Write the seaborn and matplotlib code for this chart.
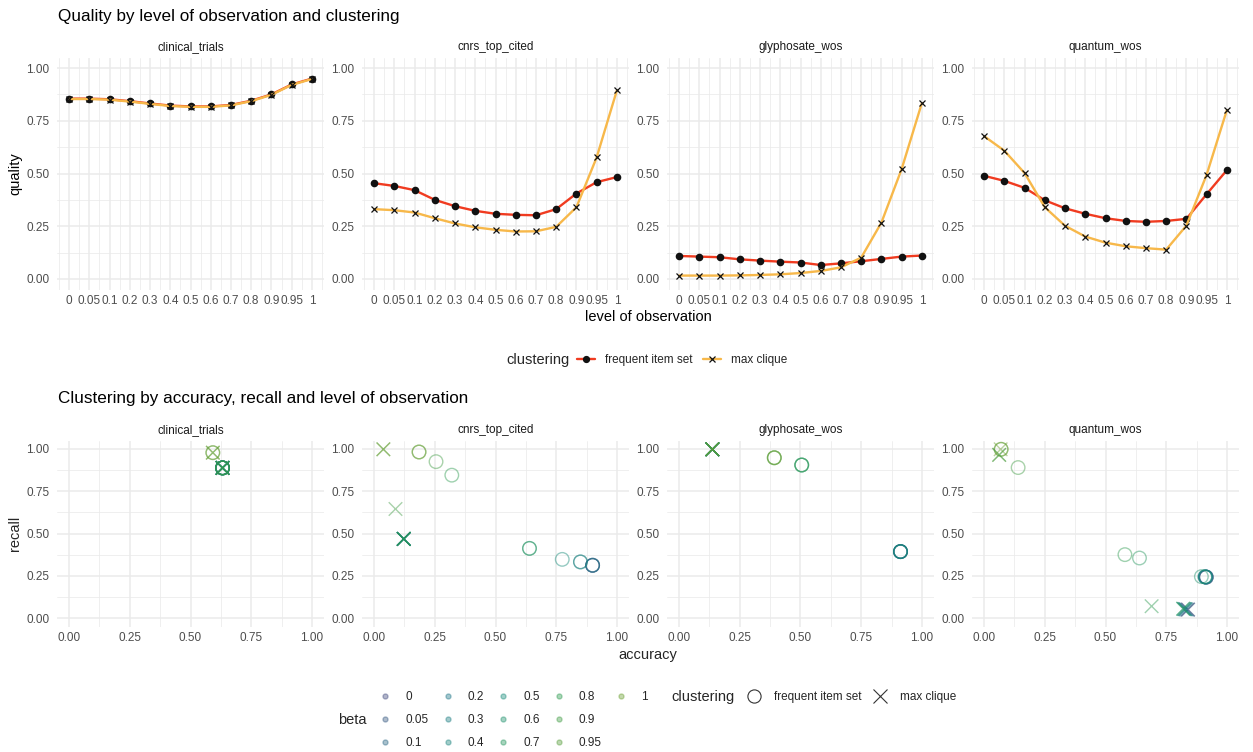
import numpy as np
import pandas as pd
import matplotlib
matplotlib.use("Agg")
import matplotlib.pyplot as plt
import seaborn as sns
from matplotlib.lines import Line2D
from matplotlib.colors import LinearSegmentedColormap, to_hex

# ---------------- data ----------------
datasets = ["clinical_trials", "cnrs_top_cited", "glyphosate_wos", "quantum_wos"]
levels = ["0", "0.05", "0.1", "0.2", "0.3", "0.4", "0.5", "0.6", "0.7", "0.8", "0.9", "0.95", "1"]
clusterings = ["frequent item set", "max clique"]

# quality by level of observation (top row)
quality_fis_clinical = [0.855, 0.855, 0.852, 0.843, 0.832, 0.822, 0.818, 0.818, 0.825, 0.845, 0.875, 0.922, 0.950]
quality_mc_clinical = [0.853, 0.853, 0.850, 0.841, 0.830, 0.820, 0.816, 0.816, 0.823, 0.843, 0.873, 0.920, 0.948]
quality_fis_cnrs = [0.454, 0.441, 0.421, 0.375, 0.345, 0.323, 0.309, 0.304, 0.302, 0.331, 0.405, 0.459, 0.483]
quality_mc_cnrs = [0.331, 0.326, 0.315, 0.288, 0.263, 0.245, 0.233, 0.225, 0.226, 0.247, 0.340, 0.576, 0.894]
quality_fis_glyphosate = [0.109, 0.106, 0.103, 0.093, 0.087, 0.082, 0.078, 0.066, 0.074, 0.084, 0.095, 0.106, 0.111]
quality_mc_glyphosate = [0.016, 0.016, 0.016, 0.017, 0.019, 0.022, 0.028, 0.038, 0.055, 0.101, 0.267, 0.521, 0.834]
quality_fis_quantum = [0.489, 0.465, 0.432, 0.373, 0.335, 0.309, 0.288, 0.275, 0.271, 0.275, 0.285, 0.402, 0.516]
quality_mc_quantum = [0.677, 0.608, 0.502, 0.340, 0.252, 0.201, 0.172, 0.155, 0.146, 0.139, 0.253, 0.494, 0.801]

# accuracy / recall per beta (bottom row)
acc_fis_clinical = [0.632, 0.632, 0.632, 0.632, 0.632, 0.632, 0.632, 0.632, 0.632, 0.632, 0.632, 0.592, 0.592]
rec_fis_clinical = [0.888, 0.888, 0.888, 0.888, 0.888, 0.888, 0.888, 0.888, 0.888, 0.888, 0.888, 0.978, 0.978]
acc_mc_clinical = [0.632, 0.632, 0.632, 0.632, 0.632, 0.632, 0.632, 0.632, 0.632, 0.632, 0.632, 0.592, 0.592]
rec_mc_clinical = [0.888, 0.888, 0.888, 0.888, 0.888, 0.888, 0.888, 0.888, 0.888, 0.888, 0.888, 0.978, 0.978]

acc_fis_cnrs = [0.900, 0.900, 0.900, 0.900, 0.850, 0.850, 0.775, 0.640, 0.640, 0.320, 0.255, 0.185, 0.185]
rec_fis_cnrs = [0.312, 0.312, 0.312, 0.312, 0.332, 0.332, 0.347, 0.412, 0.412, 0.845, 0.925, 0.982, 0.982]
acc_mc_cnrs = [0.122, 0.122, 0.122, 0.122, 0.122, 0.122, 0.122, 0.122, 0.122, 0.122, 0.088, 0.038, 0.038]
rec_mc_cnrs = [0.468, 0.468, 0.468, 0.468, 0.468, 0.468, 0.468, 0.468, 0.468, 0.468, 0.645, 0.998, 0.998]

acc_fis_glyphosate = [0.912, 0.912, 0.912, 0.912, 0.912, 0.912, 0.912, 0.505, 0.505, 0.505, 0.392, 0.392, 0.392]
rec_fis_glyphosate = [0.393, 0.393, 0.393, 0.393, 0.393, 0.393, 0.393, 0.905, 0.905, 0.905, 0.948, 0.948, 0.948]
acc_mc_glyphosate = [0.137, 0.137, 0.137, 0.137, 0.137, 0.137, 0.137, 0.137, 0.137, 0.137, 0.137, 0.137, 0.137]
rec_mc_glyphosate = [0.998, 0.998, 0.998, 0.998, 0.998, 0.998, 0.998, 0.998, 0.998, 0.998, 0.998, 0.998, 0.998]

acc_fis_quantum = [0.915, 0.915, 0.915, 0.912, 0.912, 0.910, 0.910, 0.895, 0.640, 0.580, 0.140, 0.070, 0.070]
rec_fis_quantum = [0.242, 0.242, 0.242, 0.243, 0.243, 0.244, 0.244, 0.245, 0.355, 0.375, 0.890, 0.998, 0.998]
acc_mc_quantum = [0.840, 0.840, 0.835, 0.830, 0.830, 0.825, 0.825, 0.820, 0.820, 0.690, 0.062, 0.062, 0.068]
rec_mc_quantum = [0.050, 0.050, 0.050, 0.052, 0.052, 0.053, 0.053, 0.055, 0.055, 0.070, 0.965, 0.965, 0.998]

y_ticks = [0.0, 0.25, 0.5, 0.75, 1.0]
y_tick_labels = ["0.00", "0.25", "0.50", "0.75", "1.00"]

# ---------------- tidy frames ----------------
quality_series = {
    ("clinical_trials", "frequent item set"): quality_fis_clinical,
    ("clinical_trials", "max clique"): quality_mc_clinical,
    ("cnrs_top_cited", "frequent item set"): quality_fis_cnrs,
    ("cnrs_top_cited", "max clique"): quality_mc_cnrs,
    ("glyphosate_wos", "frequent item set"): quality_fis_glyphosate,
    ("glyphosate_wos", "max clique"): quality_mc_glyphosate,
    ("quantum_wos", "frequent item set"): quality_fis_quantum,
    ("quantum_wos", "max clique"): quality_mc_quantum,
}
rows = []
for (ds, cl), vals in quality_series.items():
    for lv, v in zip(levels, vals):
        rows.append(dict(dataset=ds, clustering=cl, level=lv, quality=v))
qdf = pd.DataFrame(rows)

ar_series = {
    ("clinical_trials", "frequent item set"): (acc_fis_clinical, rec_fis_clinical),
    ("clinical_trials", "max clique"): (acc_mc_clinical, rec_mc_clinical),
    ("cnrs_top_cited", "frequent item set"): (acc_fis_cnrs, rec_fis_cnrs),
    ("cnrs_top_cited", "max clique"): (acc_mc_cnrs, rec_mc_cnrs),
    ("glyphosate_wos", "frequent item set"): (acc_fis_glyphosate, rec_fis_glyphosate),
    ("glyphosate_wos", "max clique"): (acc_mc_glyphosate, rec_mc_glyphosate),
    ("quantum_wos", "frequent item set"): (acc_fis_quantum, rec_fis_quantum),
    ("quantum_wos", "max clique"): (acc_mc_quantum, rec_mc_quantum),
}
rows = []
for (ds, cl), (acc, rec) in ar_series.items():
    for lv, a, r in zip(levels, acc, rec):
        rows.append(dict(dataset=ds, clustering=cl, beta=lv, accuracy=a, recall=r))
adf = pd.DataFrame(rows)

# ---------------- style ----------------
sns.set_theme(style="white")
plt.rcParams["font.family"] = ["Liberation Sans", "DejaVu Sans"]

RED = "#F03B20"
ORANGE = "#F7B84A"
GRID = "#ebebeb"
TICK_C = "#4d4d4d"
STRIP_C = "#1a1a1a"
ALPHA = 0.45

cmap = LinearSegmentedColormap.from_list(
    "beta", ["#3e477c", "#1b7385", "#158a78", "#2a9a4e", "#6a9f30"])
beta_colors = {lv: to_hex(cmap(i / (len(levels) - 1))) for i, lv in enumerate(levels)}

W, H = 1253, 752
fig = plt.figure(figsize=(W / 100, H / 100), dpi=100)
fig.patch.set_facecolor("white")

panel_left = [57, 362, 667, 972]
panel_w = 267


def fx(px):
    return px / W


def fy(py):
    return 1 - py / H


def style_axes(ax):
    for s in ax.spines.values():
        s.set_visible(False)
    ax.set_facecolor("white")
    ax.grid(which="major", color=GRID, lw=1.1)
    ax.grid(which="minor", color=GRID, lw=0.55)
    ax.set_axisbelow(True)
    ax.tick_params(which="both", length=0, labelsize=8.5, labelcolor=TICK_C)
    ax.tick_params(axis="y", pad=5.5)
    ax.tick_params(axis="x", pad=4)
    ax.set_xlabel("")
    ax.set_ylabel("")


# ---------------- top row ----------------
top_y0, top_y1 = 57.5, 289.5
for i, ds in enumerate(datasets):
    ax = fig.add_axes([fx(panel_left[i]), fy(top_y1), fx(panel_w), (top_y1 - top_y0) / H])
    sub = qdf[qdf["dataset"] == ds]
    sns.pointplot(data=sub, x="level", y="quality", hue="clustering", order=levels,
                  hue_order=clusterings, palette=[RED, ORANGE], markers=["o", "x"],
                  linestyles=["-", "-"], errorbar=None, legend=False, ax=ax,
                  markersize=4.2, linewidth=1.7)
    for ln in ax.lines:
        ln.set_markerfacecolor("#111111")
        ln.set_markeredgecolor("#111111")
        if ln.get_marker() == "x":
            ln.set_markeredgewidth(0.9)
            ln.set_markersize(4.6)
    n = len(levels)
    ax.set_xlim(-0.6, n - 1 + 0.6)
    ax.set_ylim(-0.05, 1.05)
    ax.set_xticks(np.arange(n))
    ax.set_xticklabels(levels)
    ax.set_xticks(np.arange(n + 1) - 0.5, minor=True)
    ax.set_yticks(y_ticks)
    ax.set_yticklabels(y_tick_labels)
    ax.set_yticks([0.125, 0.375, 0.625, 0.875], minor=True)
    style_axes(ax)
    ax.xaxis.grid(True, which="major", color=GRID, lw=1.1)
    ax.xaxis.grid(True, which="minor", color=GRID, lw=0.55)
    fig.text(fx(panel_left[i] + panel_w / 2), fy(47), ds, ha="center", va="center",
             fontsize=8.5, color=STRIP_C)

fig.text(fx(58), fy(17), "Quality by level of observation and clustering",
         ha="left", va="center", fontsize=12.3, color="black")
fig.text(fx(648), fy(317), "level of observation", ha="center", va="center",
         fontsize=10.5, color="black")
fig.text(fx(15), fy(173.5), "quality", ha="center", va="center", rotation=90,
         fontsize=10.5, color="black")

# top legend
fig.text(fx(506), fy(360), "clustering", ha="left", va="center", fontsize=10.5)
top_handles = [
    Line2D([], [], color=RED, lw=1.7, marker="o", mfc="#111111", mec="#111111", ms=4.2),
    Line2D([], [], color=ORANGE, lw=1.7, marker="x", mfc="#111111", mec="#111111", ms=4.6, mew=0.9),
]
fig.legend(top_handles, clusterings, loc="center left", bbox_to_anchor=(fx(577), fy(360)),
           ncol=2, frameon=False, borderpad=0, borderaxespad=0, handlelength=1.53,
           handletextpad=0.85, columnspacing=0.85, fontsize=8.5)

# ---------------- bottom row ----------------
bot_y0, bot_y1 = 440.5, 626.5
markers = {"frequent item set": "o", "max clique": "x"}
for i, ds in enumerate(datasets):
    ax = fig.add_axes([fx(panel_left[i]), fy(bot_y1), fx(panel_w), (bot_y1 - bot_y0) / H])
    for cl in clusterings:
        sub = adf[(adf["dataset"] == ds) & (adf["clustering"] == cl)]
        n_before = len(ax.collections)
        sns.scatterplot(data=sub, x="accuracy", y="recall", hue="beta", hue_order=levels,
                        palette=beta_colors, marker=markers[cl], s=95, alpha=ALPHA,
                        legend=False, ax=ax)
        for coll in ax.collections[n_before:]:
            cols = coll.get_facecolors()
            coll.set_edgecolors(cols)
            coll.set_facecolors("none")
            coll.set_linewidths(1.0)
            coll.set_alpha(ALPHA)
    ax.set_xlim(-0.05, 1.05)
    ax.set_ylim(-0.05, 1.05)
    ax.set_xticks(y_ticks)
    ax.set_xticklabels(y_tick_labels)
    ax.set_xticks([0.125, 0.375, 0.625, 0.875], minor=True)
    ax.set_yticks(y_ticks)
    ax.set_yticklabels(y_tick_labels)
    ax.set_yticks([0.125, 0.375, 0.625, 0.875], minor=True)
    style_axes(ax)
    fig.text(fx(panel_left[i] + panel_w / 2), fy(430), ds, ha="center", va="center",
             fontsize=8.5, color=STRIP_C)

fig.text(fx(58), fy(399), "Clustering by accuracy, recall and level of observation",
         ha="left", va="center", fontsize=12.3, color="black")
fig.text(fx(648), fy(655), "accuracy", ha="center", va="center", fontsize=10.5)
fig.text(fx(15), fy(533.5), "recall", ha="center", va="center", rotation=90, fontsize=10.5)

# beta legend (5 columns x 3 rows, column-major; two blank slots complete the grid)
fig.text(fx(338), fy(720), "beta", ha="left", va="center", fontsize=10.5)
beta_handles = [Line2D([], [], ls="none", marker="o", ms=3.6, mfc=beta_colors[lv],
                       mec=beta_colors[lv], alpha=0.4) for lv in levels]
beta_labels = list(levels)
for _ in range(2):
    beta_handles.append(Line2D([], [], ls="none", marker="none"))
    beta_labels.append("")
fig.legend(beta_handles, beta_labels, loc="center left", bbox_to_anchor=(fx(376.5), fy(720)),
           ncol=5, frameon=False, borderpad=0, borderaxespad=0, handlelength=1.5,
           handletextpad=0.95, columnspacing=0.86, labelspacing=0.95, fontsize=8.5)

# clustering legend (bottom)
fig.text(fx(671), fy(697), "clustering", ha="left", va="center", fontsize=10.5)
cl_handles = [
    Line2D([], [], ls="none", marker="o", ms=9.5, mfc="none", mec="#333333", mew=0.8),
    Line2D([], [], ls="none", marker="x", ms=9.5, mec="#333333", mew=0.8),
]
fig.legend(cl_handles, clusterings, loc="center left", bbox_to_anchor=(fx(745), fy(697)),
           ncol=2, frameon=False, borderpad=0, borderaxespad=0, handlelength=1.5,
           handletextpad=0.95, columnspacing=0.8, fontsize=8.5)

fig.savefig("out.png", dpi=100, facecolor="white")
